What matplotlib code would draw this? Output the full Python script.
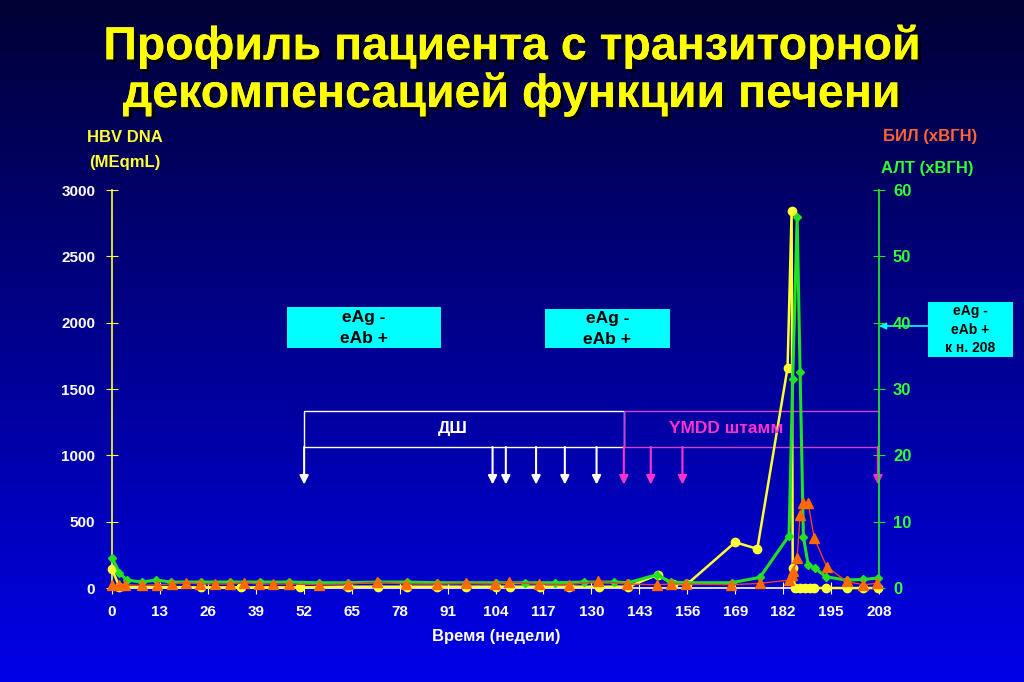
import numpy as np
import matplotlib
matplotlib.use("Agg")
import matplotlib.pyplot as plt
import matplotlib.patheffects as pe
from matplotlib.patches import Rectangle
from matplotlib.colors import LinearSegmentedColormap

plt.rcParams['font.family'] = ['Liberation Sans', 'DejaVu Sans']
plt.rcParams['font.weight'] = 'bold'

# ─── Data ────────────────────────────────────────────────
# HBV DNA (left axis, MEq/mL)
dna_weeks = [0, 2, 24, 35, 51, 64, 72, 80, 88, 96, 104, 108, 116, 124, 132, 140,
             148, 152, 156, 169, 175, 183.2, 184.3, 184.6, 185.2, 186.6, 187.9,
             189.3, 190.5, 193.6, 199.2, 203.7, 207.8]
dna_vals = [140, 10, 5, 5, 5, 10, 10, 10, 10, 10, 10, 10, 10, 10, 10, 10,
            100, 30, 30, 345, 295, 1660, 2840, 150, 0, 0, 0,
            0, 0, 0, 0, 0, 0]

# ALT (right axis, x ULN)
alt_weeks = [0, 2, 4, 8, 12, 16, 24, 32, 40, 48, 56, 64, 72, 80, 88, 96, 104,
             112, 120, 128, 136, 140, 147.7, 151.5, 155.6, 168, 175.7, 183.6,
             184.6, 185.8, 186.6, 187.5, 188.8, 190.6, 193.6, 199.2, 203.7, 207.8]
alt_vals = [4.6, 2.3, 1.2, 0.9, 1.2, 0.9, 0.9, 0.9, 0.9, 0.9, 0.8, 0.8, 0.9, 0.9,
            0.8, 0.8, 0.8, 0.8, 0.8, 0.9, 0.9, 0.8, 2.0, 0.9, 0.8, 0.8, 1.6, 7.9,
            31.5, 56, 32.5, 7.7, 3.5, 3.0, 1.7, 1.2, 1.3, 1.5]

# Bilirubin (right axis, x ULN)
bil_weeks = [0, 1.8, 3.5, 8, 12.1, 16.2, 20.1, 23.9, 27.9, 32, 35.8, 39.8, 43.7,
             48, 56, 64, 71.9, 79.7, 88, 95.9, 103.9, 107.7, 115.8, 123.9, 131.9,
             139.7, 147.7, 151.5, 155.6, 167.9, 175.7, 183.7, 184.3, 184.8, 185.8,
             186.6, 187.5, 188.8, 190.4, 193.8, 199.2, 203.7, 207.5]
bil_vals = [0.4, 0.4, 0.5, 0.4, 0.5, 0.6, 0.8, 0.6, 0.6, 0.6, 0.8, 0.6, 0.6,
            0.6, 0.5, 0.6, 0.9, 0.6, 0.6, 0.7, 0.6, 0.9, 0.6, 0.5, 1.0,
            0.6, 0.5, 0.6, 0.6, 0.5, 0.7, 1.2, 2.0, 2.5, 4.5,
            11.0, 12.8, 12.8, 7.6, 3.2, 1.0, 0.5, 0.7]

x_ticks = [0, 13, 26, 39, 52, 65, 78, 91, 104, 117, 130, 143, 156, 169, 182, 195, 208]
left_ticks = [0, 500, 1000, 1500, 2000, 2500, 3000]
right_ticks = [0, 10, 20, 30, 40, 50, 60]

# treatment arrows (weeks)
ds_arrow_weeks = [52.1, 103.2, 106.8, 115, 122.8, 131.4]
ymdd_arrow_weeks = [138.8, 146.1, 154.7, 207.7]

YELLOW = '#FFFF33'
GREEN = '#22E022'
GREEN_TXT = '#33FF33'
ORANGE = '#FF6A00'
MAGENTA = '#FF33CC'
CYAN = '#00FFFF'

# ─── Figure & background gradient ────────────────────────
fig = plt.figure(figsize=(10.24, 6.82), dpi=100)
bg = fig.add_axes([0, 0, 1, 1], zorder=-10)
grad = np.linspace(0, 1, 256).reshape(-1, 1)
cmap = LinearSegmentedColormap.from_list('bg', ['#000035', '#0000E8'])
bg.imshow(grad, aspect='auto', cmap=cmap, extent=[0, 1, 0, 1], origin='upper')
bg.axis('off')

ax = fig.add_axes([0.1094, 0.1378, 0.749, 0.5836])
ax.set_facecolor('none')
ax2 = ax.twinx()
ax2.set_position([0.1094, 0.1378, 0.749, 0.5836])

ax.set_xlim(0, 208)
ax.set_ylim(0, 3000)
ax2.set_ylim(0, 60)

for a in (ax, ax2):
    a.spines['top'].set_visible(False)
ax.spines['left'].set_color(YELLOW)
ax.spines['left'].set_linewidth(1.2)
ax.spines['right'].set_visible(False)
ax.spines['bottom'].set_color('white')
ax.spines['bottom'].set_linewidth(1.2)
ax2.spines['left'].set_visible(False)
ax2.spines['bottom'].set_visible(False)
ax2.spines['right'].set_color(GREEN)
ax2.spines['right'].set_linewidth(1.3)

ax.set_xticks(x_ticks)
ax.set_yticks(left_ticks)
ax2.set_yticks(right_ticks)
ax.tick_params(axis='x', colors='white', direction='inout', length=8,
               labelsize=11, pad=8)
ax.tick_params(axis='y', color=YELLOW, labelcolor='white', direction='inout',
               length=8, labelsize=11, pad=8)
ax2.tick_params(axis='y', color=GREEN, labelcolor=GREEN_TXT, direction='inout',
                length=8, labelsize=12, pad=6)
for lbl in ax.get_xticklabels() + ax.get_yticklabels() + ax2.get_yticklabels():
    lbl.set_fontweight('bold')

# ─── Series ──────────────────────────────────────────────
ax.plot(dna_weeks, dna_vals, color=YELLOW, lw=1.8, marker='o', ms=6,
        zorder=5, clip_on=False)
ax2.plot(alt_weeks, alt_vals, color=GREEN, lw=2.2, marker='D', ms=4.5,
         zorder=4, clip_on=False)
ax2.plot(bil_weeks, bil_vals, color='#E8402A', lw=1.0, marker='^', ms=7,
         mfc=ORANGE, mec=ORANGE, zorder=6, clip_on=False)

# ─── Annotations ─────────────────────────────────────────
def cyan_box(x0, x1, y0, y1, text, size=12.5, spacing=1.5):
    ax.add_patch(Rectangle((x0, y0), x1 - x0, y1 - y0, facecolor=CYAN,
                           edgecolor='none', zorder=3, clip_on=False))
    ax.text((x0 + x1) / 2, (y0 + y1) / 2, text, ha='center', va='center',
            fontsize=size, fontweight='bold', color='black', zorder=4,
            linespacing=spacing, clip_on=False)

cyan_box(47.5, 89.2, 1809, 2118, "eAg -\neAb +")
cyan_box(117.4, 151.3, 1809, 2103, "eAg -\neAb +")
cyan_box(221.3, 244.3, 1741, 2156, "eAg -\neAb +\nк н. 208", size=10, spacing=1.45)
ax.annotate('', xy=(208, 1975), xytext=(221.3, 1975),
            arrowprops=dict(arrowstyle='-|>', color=CYAN, lw=1.2,
                            shrinkA=0, shrinkB=0), annotation_clip=False)

ax.add_patch(Rectangle((52.1, 1063), 138.8 - 52.1, 1334 - 1063, fill=False,
                       edgecolor='white', lw=1, zorder=3))
ax.add_patch(Rectangle((138.8, 1063), 208 - 138.8, 1334 - 1063, fill=False,
                       edgecolor='#CC44CC', lw=1, zorder=3))
ax.text(92.5, 1200, "ДШ", color='white', fontsize=12.5, fontweight='bold',
        ha='center', va='center')
ax.text(166.5, 1200, "YMDD штамм", color=MAGENTA, fontsize=12.5, fontweight='bold',
        ha='center', va='center', zorder=7)

for w in ds_arrow_weeks:
    ax.annotate('', xy=(w, 780), xytext=(w, 1063),
                arrowprops=dict(arrowstyle='-|>', color='white', lw=1.5,
                                mutation_scale=13, shrinkA=0, shrinkB=0))
for w in ymdd_arrow_weeks:
    ax.annotate('', xy=(w, 780), xytext=(w, 1063),
                arrowprops=dict(arrowstyle='-|>', color=MAGENTA, lw=1.5,
                                mutation_scale=13, shrinkA=0, shrinkB=0))

# ─── Texts ───────────────────────────────────────────────
shadow = [pe.withSimplePatchShadow(offset=(2.5, -2.5), shadow_rgbFace='#000010',
                                   alpha=0.9), pe.Normal()]
fig.text(0.5, 0.931, "Профиль пациента с транзиторной", color='#FFFF00',
         fontsize=33.5, fontweight='bold', ha='center', va='center',
         path_effects=shadow)
fig.text(0.5, 0.861, "декомпенсацией функции печени", color='#FFFF00',
         fontsize=33.5, fontweight='bold', ha='center', va='center',
         path_effects=shadow)

fig.text(125 / 1024, 1 - 137 / 682, "HBV DNA", color=YELLOW, fontsize=12,
         fontweight='bold', ha='center', va='center')
fig.text(125 / 1024, 1 - 163 / 682, "(MEqmL)", color=YELLOW, fontsize=12,
         fontweight='bold', ha='center', va='center')
fig.text(930 / 1024, 1 - 137 / 682, "БИЛ (хВГН)", color='#FF6633', fontsize=12,
         fontweight='bold', ha='center', va='center')
fig.text(927 / 1024, 1 - 168 / 682, "АЛТ (хВГН)", color=GREEN_TXT, fontsize=12,
         fontweight='bold', ha='center', va='center')
fig.text(496 / 1024, 1 - 637 / 682, "Время (недели)", color='white', fontsize=12,
         fontweight='bold', ha='center', va='center')

fig.savefig("out.png", dpi=100)
